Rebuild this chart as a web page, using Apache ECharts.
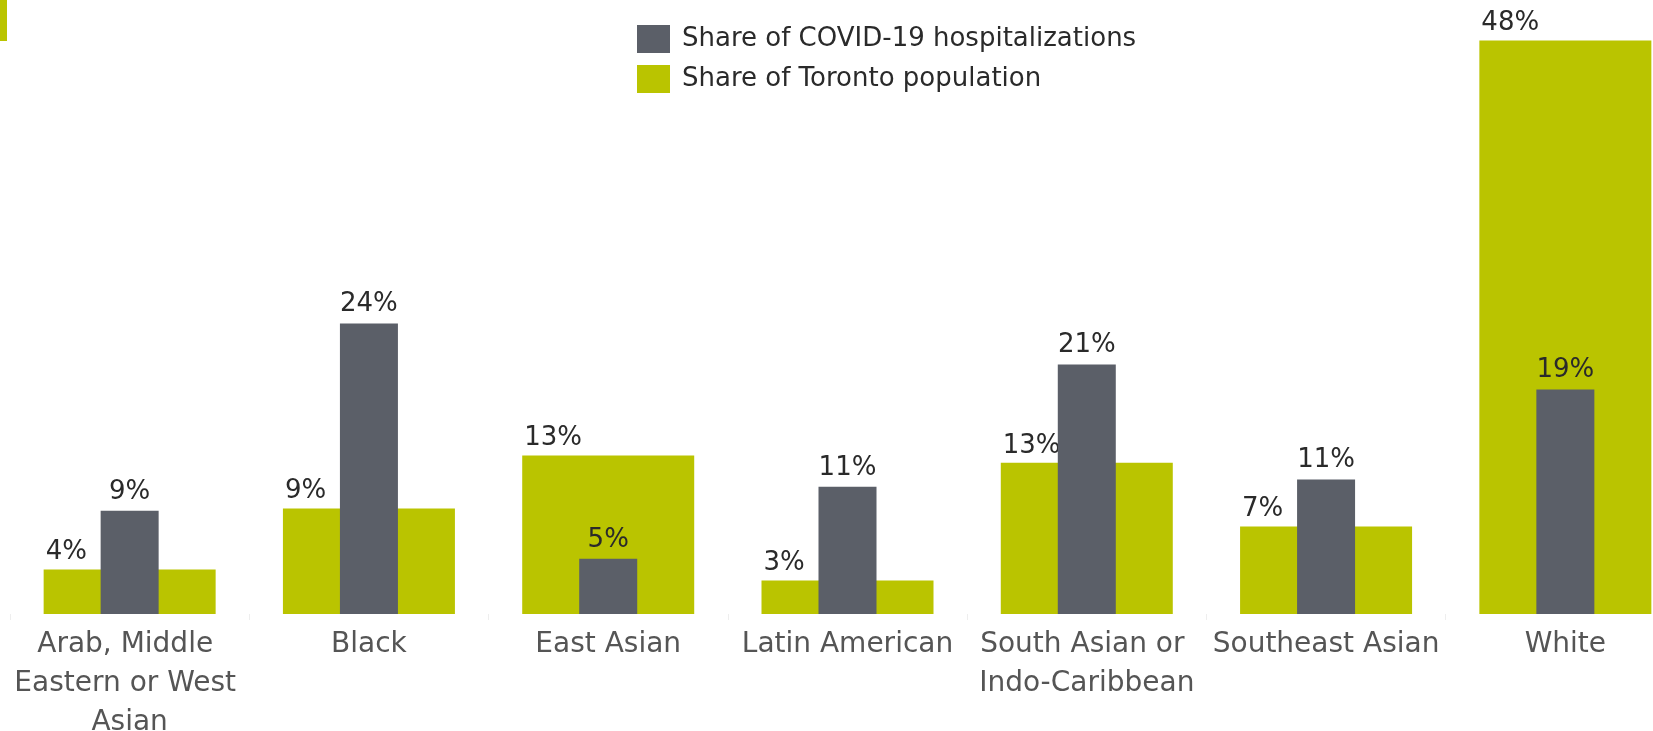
<!DOCTYPE html>
<html>
<head>
<meta charset="utf-8">
<script src="https://cdn.jsdelivr.net/npm/echarts@6/dist/echarts.min.js"></script>
<style>
html, body { margin: 0; padding: 0; background: #fff; }
#chart { width: 1653px; height: 731px; }
</style>
</head>
<body>
<div id="chart"></div>
<script>
var categories = [ 'Arab, Middle Eastern or West Asian', 'Black', 'East Asian', 'Latin American',
		'South Asian or Indo-Caribbean', 'Southeast Asian', 'White' ];
var hospitalShare = [ 8.6, 24.2, 4.6, 10.6, 20.8, 11.2, 18.7 ];
var populationShare = [ 3.7, 8.8, 13.2, 2.8, 12.6, 7.3, 47.8 ];
var seriesNames = [ 'Share of COVID-19 hospitalizations', 'Share of Toronto population' ];

function pct(p) {
	return Math.round(p.value) + '%';
}

function loadShareChart(chartId) {
	var myChart = echarts.init(document.getElementById(chartId));
	var option = {
		animation : false,
		textStyle : {
			fontFamily : 'DejaVu Sans'
		},
		graphic : [ {
			type : 'rect',
			left : 0,
			top : 0,
			shape : { width : 7, height : 41 },
			style : { fill : '#bac400' }
		} ],
		legend : {
			data : seriesNames,
			orient : 'vertical',
			left : 632,
			top : 20,
			itemWidth : 33,
			itemHeight : 28,
			itemGap : 12,
			icon : 'rect',
			textStyle : {
				fontSize : 26,
				color : '#2a2a2a',
				padding : [ 0, 0, 0, 7 ]
			}
		},
		grid : {
			left : 10,
			width : 1675,
			top : 14,
			bottom : 117,
			outerBoundsMode : 'none',
			containLabel : false
		},
		xAxis : [ {
			type : 'category',
			data : categories,
			axisLine : { show : false },
			axisTick : {
				show : true,
				length : 6,
				lineStyle : { color : '#eee' }
			},
			axisLabel : {
				fontSize : 28,
				color : '#555',
				lineHeight : 39,
				margin : 11,
				width : 238,
				overflow : 'break',
				interval : 0
			}
		}, {
			type : 'category',
			data : categories,
			show : false
		} ],
		yAxis : {
			type : 'value',
			min : 0,
			max : 50,
			show : false,
			splitLine : { show : false }
		},
		series : [ {
			name : seriesNames[1],
			type : 'bar',
			xAxisIndex : 0,
			barWidth : 172,
			z : 2,
			itemStyle : { color : '#bac400' },
			label : {
				show : true,
				position : [ 2, -17 ],
				align : 'left',
				verticalAlign : 'middle',
				fontSize : 26,
				color : '#2a2a2a',
				formatter : pct
			},
			data : populationShare
		}, {
			name : seriesNames[0],
			type : 'bar',
			xAxisIndex : 1,
			barWidth : 58,
			z : 3,
			itemStyle : { color : '#5b5f68' },
			label : {
				show : true,
				position : 'top',
				distance : 6,
				fontSize : 26,
				color : '#2a2a2a',
				formatter : pct
			},
			data : hospitalShare
		} ]
	};
	myChart.setOption(option);
}

loadShareChart('chart');
</script>
</body>
</html>
